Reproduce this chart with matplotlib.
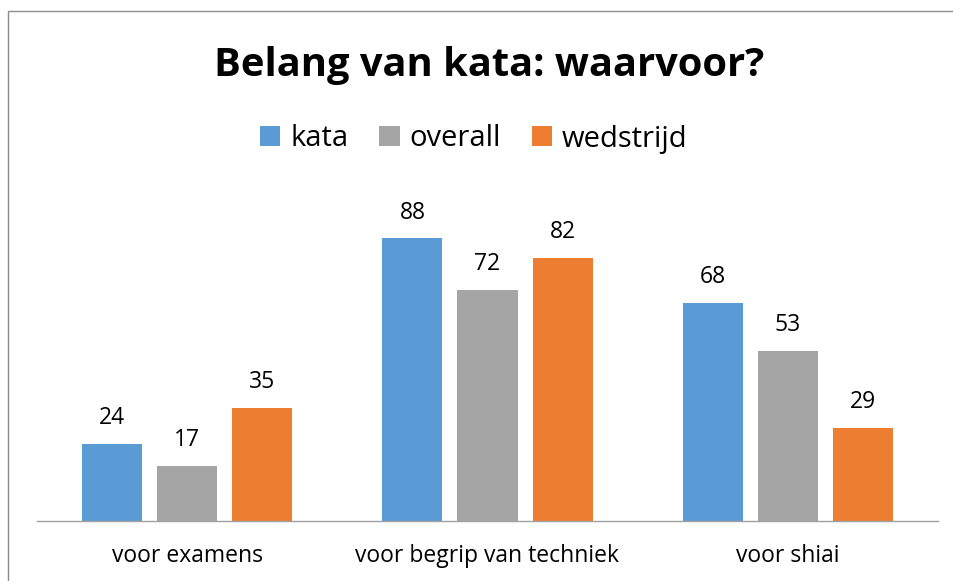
import matplotlib
matplotlib.use("Agg")
import matplotlib.pyplot as plt
import numpy as np
from matplotlib.patches import Rectangle

# Data
categories = ["voor examens", "voor begrip van techniek", "voor shiai"]
series_names = ["kata", "overall", "wedstrijd"]
kata = [24, 88, 68]
overall = [17, 72, 53]
wedstrijd = [35, 82, 29]
colors = ["#5B9BD5", "#A5A5A5", "#ED7D31"]

plt.rcParams["font.family"] = ["Open Sans", "DejaVu Sans"]

W, H = 954, 581
fig = plt.figure(figsize=(W / 100, H / 100), dpi=100)
fig.patch.set_facecolor("white")

# chart area frame (cropped at right/bottom in the original)
fig.patches.append(Rectangle((8 / W, -0.2), 1.5, 1.2 - 11 / H,
                             transform=fig.transFigure, fill=False,
                             edgecolor="#8C8C8C", linewidth=1.0))

ax = fig.add_axes([37 / W, 1 - 520.5 / H, (938 - 37) / W, (520.5 - 200) / H])
x = np.arange(len(categories))
width = 0.2
offsets = [-0.25, 0.0, 0.25]

bars = []
for vals, name, col, off in zip([kata, overall, wedstrijd], series_names, colors, offsets):
    b = ax.bar(x + off, vals, width, color=col, label=name, zorder=2)
    ax.bar_label(b, padding=10, fontsize=16.5, color="black")
    bars.append(b)

ax.set_xlim(-0.5, 2.5)
ax.set_ylim(0, 100)
ax.set_yticks([])
ax.set_xticks(x)
ax.set_xticklabels(categories, fontsize=16.5)
ax.tick_params(axis="x", length=0, pad=17)
for s in ["top", "right", "left"]:
    ax.spines[s].set_visible(False)
ax.spines["bottom"].set_color("#A0A0A0")
ax.spines["bottom"].set_linewidth(1.0)
ax.set_facecolor("none")

fig.text(489.5 / W, 1 - 76 / H, "Belang van kata: waarvoor?", ha="center",
         va="baseline", fontsize=28.7, fontweight="bold")

leg = fig.legend(handles=bars, labels=series_names, loc="center",
                 bbox_to_anchor=(474 / W, 1 - 139 / H), ncol=3, frameon=False,
                 fontsize=21, handlelength=0.69, handleheight=0.69,
                 handletextpad=0.35, columnspacing=1.05, borderpad=0)

fig.savefig("out.png", dpi=100, facecolor="white")
